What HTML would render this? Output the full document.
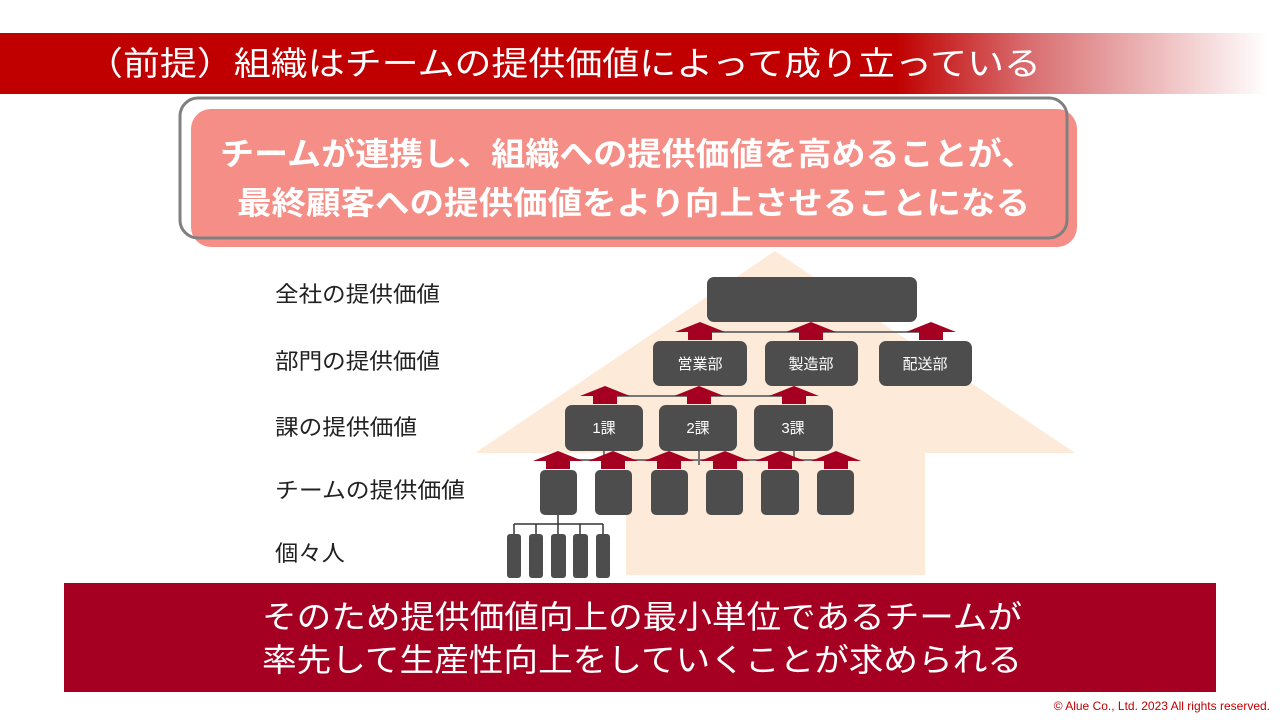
<!DOCTYPE html>
<html><head><meta charset="utf-8"><style>
html,body{margin:0;padding:0;background:#fff;}
svg{display:block;}
text{font-family:"Liberation Sans","Noto Sans CJK JP",sans-serif;}
</style></head><body>
<svg width="1280" height="720" viewBox="0 0 1280 720" xmlns="http://www.w3.org/2000/svg">
<defs>
<linearGradient id="hg" x1="0" x2="1280" y1="0" y2="0" gradientUnits="userSpaceOnUse">
<stop offset="0" stop-color="#c00000"/>
<stop offset="0.7" stop-color="#c00000"/>
<stop offset="0.8" stop-color="#d86a6c"/>
<stop offset="0.99" stop-color="#ffffff"/>
</linearGradient>
<g id="arr"><polygon points="-25,10 0,0 25,10 12,10 12,18 -12,18 -12,10" fill="#a50021"/></g>
</defs>
<rect x="0" y="33" width="1280" height="61" fill="url(#hg)"/>
<text x="86" y="75" font-size="33" fill="#fff" textLength="955" lengthAdjust="spacingAndGlyphs">（前提）組織はチームの提供価値によって成り立っている</text>

<rect x="191" y="109" width="886" height="138" rx="20" fill="#f58e86"/>
<rect x="180" y="98" width="887" height="140" rx="18" fill="none" stroke="#808080" stroke-width="3"/>
<text x="220" y="165" font-size="32" font-weight="bold" fill="#fff" textLength="815" lengthAdjust="spacingAndGlyphs">チームが連携し、組織への提供価値を高めることが、</text>
<text x="237" y="214" font-size="32" font-weight="bold" fill="#fff" textLength="793" lengthAdjust="spacingAndGlyphs">最終顧客への提供価値をより向上させることになる</text>

<polygon points="775,251 1075,453 925,453 925,575 626,575 626,453 475,453" fill="#feead8"/>

<g font-size="22" fill="#222">
<text x="275" y="302" textLength="165" lengthAdjust="spacingAndGlyphs">全社の提供価値</text>
<text x="275" y="369" textLength="165" lengthAdjust="spacingAndGlyphs">部門の提供価値</text>
<text x="275" y="435" textLength="142" lengthAdjust="spacingAndGlyphs">課の提供価値</text>
<text x="275" y="498" textLength="190" lengthAdjust="spacingAndGlyphs">チームの提供価値</text>
<text x="275" y="561" textLength="70" lengthAdjust="spacingAndGlyphs">個々人</text>
</g>

<g stroke="#777" stroke-width="2">
<line x1="700" y1="332" x2="931" y2="332"/>
<line x1="605" y1="396" x2="794" y2="396"/>
<line x1="558" y1="460" x2="836" y2="460"/>
<line x1="604" y1="451" x2="604" y2="460"/>
<line x1="699" y1="451" x2="699" y2="465"/>
<line x1="794" y1="451" x2="794" y2="460"/>
</g>

<g fill="#4d4d4d">
<rect x="707" y="277" width="210" height="45" rx="7"/>
<rect x="653" y="341" width="94" height="45" rx="7"/>
<rect x="765" y="341" width="93" height="45" rx="7"/>
<rect x="879" y="341" width="93" height="45" rx="7"/>
<rect x="565" y="405" width="78" height="46" rx="7"/>
<rect x="659" y="405" width="78" height="46" rx="7"/>
<rect x="754" y="405" width="79" height="46" rx="7"/>
<rect x="540" y="470" width="37" height="45" rx="5"/>
<rect x="595" y="470" width="37" height="45" rx="5"/>
<rect x="651" y="470" width="37" height="45" rx="5"/>
<rect x="706" y="470" width="37" height="45" rx="5"/>
<rect x="761" y="470" width="38" height="45" rx="5"/>
<rect x="817" y="470" width="37" height="45" rx="5"/>
<rect x="507" y="534" width="14" height="44" rx="3"/>
<rect x="529" y="534" width="14" height="44" rx="3"/>
<rect x="551" y="534" width="15" height="44" rx="3"/>
<rect x="573" y="534" width="15" height="44" rx="3"/>
<rect x="596" y="534" width="14" height="44" rx="3"/>
</g>
<g stroke="#333" stroke-width="1.5" fill="none">
<line x1="558" y1="515" x2="558" y2="524"/>
<line x1="514" y1="524" x2="603" y2="524"/>
<line x1="514" y1="524" x2="514" y2="534"/>
<line x1="536" y1="524" x2="536" y2="534"/>
<line x1="558" y1="524" x2="558" y2="534"/>
<line x1="580" y1="524" x2="580" y2="534"/>
<line x1="603" y1="524" x2="603" y2="534"/>
</g>

<use href="#arr" x="700" y="322"/><use href="#arr" x="811" y="322"/><use href="#arr" x="931" y="322"/>
<use href="#arr" x="605" y="386"/><use href="#arr" x="699" y="386"/><use href="#arr" x="794" y="386"/>
<use href="#arr" x="558" y="451"/><use href="#arr" x="613" y="451"/><use href="#arr" x="669" y="451"/>
<use href="#arr" x="725" y="451"/><use href="#arr" x="780" y="451"/><use href="#arr" x="836" y="451"/>

<g font-size="15" fill="#fff" text-anchor="middle">
<text x="700" y="369">営業部</text>
<text x="811" y="369">製造部</text>
<text x="925" y="369">配送部</text>
<text x="604" y="433">1課</text>
<text x="698" y="433">2課</text>
<text x="793" y="433">3課</text>
</g>

<rect x="64" y="583" width="1152" height="109" fill="#a50021"/>
<text x="262" y="628" font-size="32" fill="#fff" textLength="760" lengthAdjust="spacingAndGlyphs">そのため提供価値向上の最小単位であるチームが</text>
<text x="262" y="671" font-size="32" fill="#fff" textLength="760" lengthAdjust="spacingAndGlyphs">率先して生産性向上をしていくことが求められる</text>
<text x="1270" y="710" font-size="12" fill="#c00000" text-anchor="end">© Alue Co., Ltd.   2023   All rights reserved.</text>
</svg>
</body></html>
